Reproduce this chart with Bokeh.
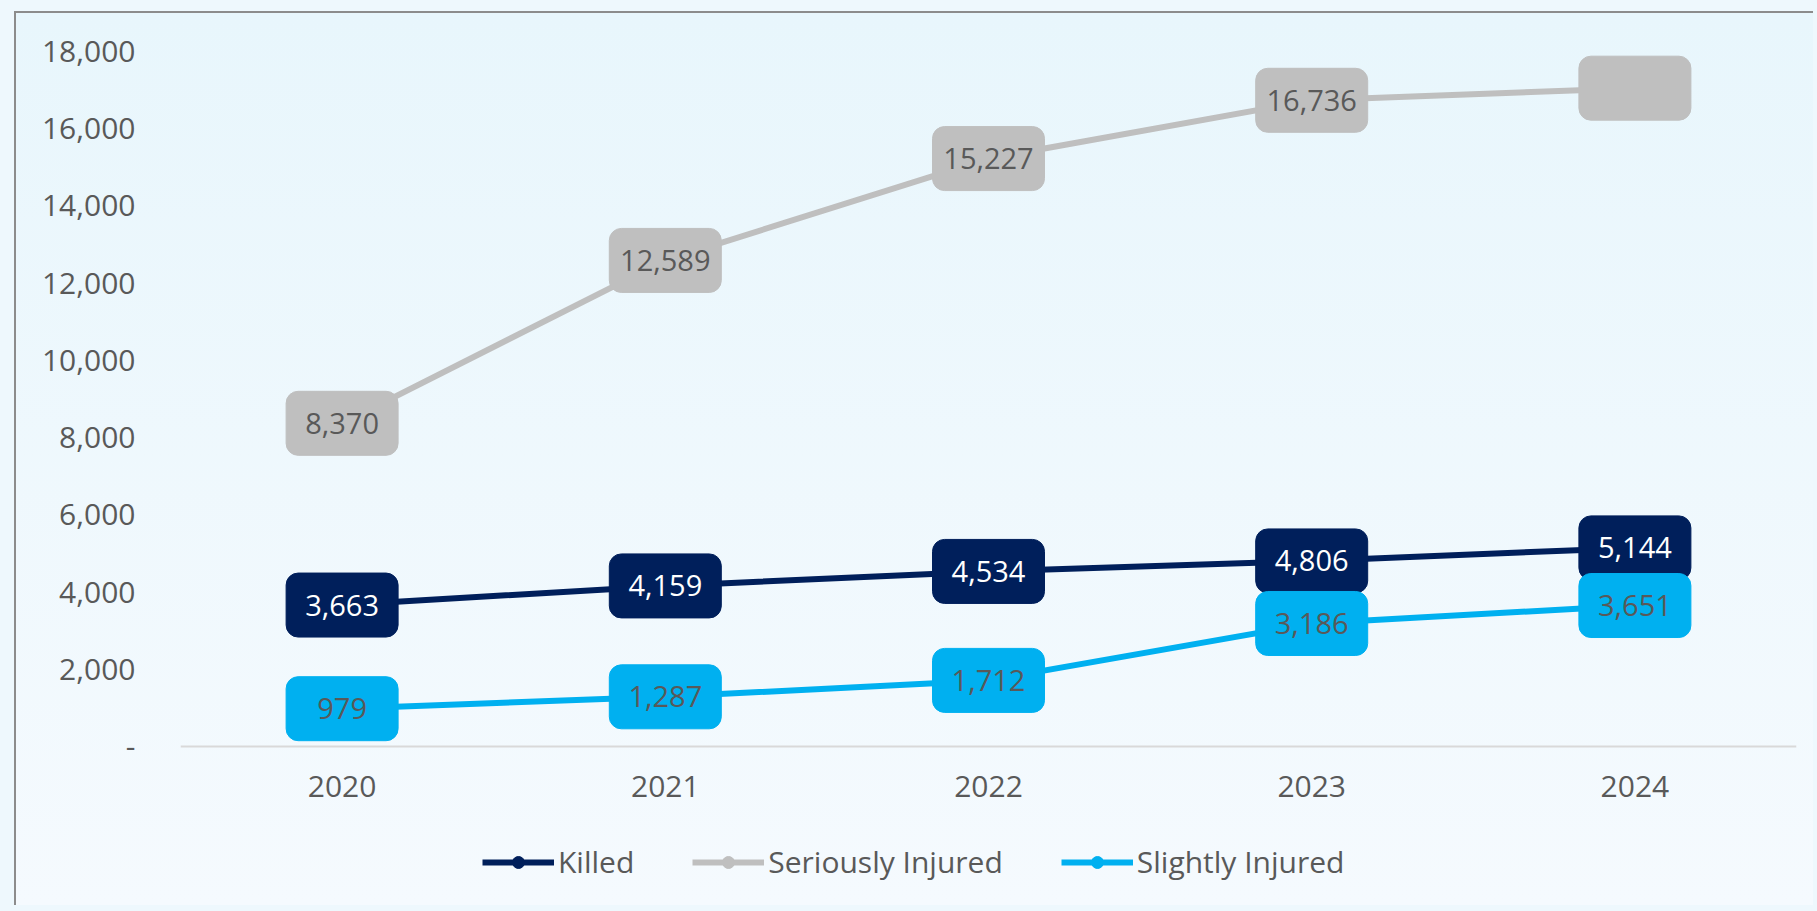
from bokeh.plotting import figure
from bokeh.models import ColumnDataSource, FactorRange, FixedTicker, Legend, LegendItem
from bokeh.core.properties import value
from bokeh.embed import file_html
from bokeh.resources import INLINE

# ---- data ----
years = ["2020", "2021", "2022", "2023", "2024"]
killed = [3663, 4159, 4534, 4806, 5144]
seriously_injured = [8370, 12589, 15227, 16736, 17050]
slightly_injured = [979, 1287, 1712, 3186, 3651]
killed_labels = ["3,663", "4,159", "4,534", "4,806", "5,144"]
seriously_labels = ["8,370", "12,589", "15,227", "16,736", ""]
slightly_labels = ["979", "1,287", "1,712", "3,186", "3,651"]
y_ticks = [0, 2000, 4000, 6000, 8000, 10000, 12000, 14000, 16000, 18000]
y_tick_labels = ["-", "2,000", "4,000", "6,000", "8,000", "10,000", "12,000",
                 "14,000", "16,000", "18,000"]

FONT = "Open Sans"
TXT = "#595959"

# frame runs below the zero line so the legend can sit inside it
p = figure(width=1799, height=894, x_range=FactorRange(*years, range_padding=0),
           y_range=(-4170, 18000), output_backend="svg", toolbar_location=None,
           min_border_left=164, min_border_right=19, min_border_top=38,
           min_border_bottom=0)
p.background_fill_alpha = 0
p.border_fill_alpha = 0
p.outline_line_color = None
p.grid.visible = False
p.styles = {
    "margin-left": "14px",
    "margin-top": "11px",
    "border-left": "2px solid #8C8C8C",
    "border-top": "2px solid #8C8C8C",
    "background": "linear-gradient(#E8F6FC, #F5FAFE)",
    "box-shadow": "0 0 0 40px #EEF8FD",
}

# axes
p.yaxis.ticker = FixedTicker(ticks=y_ticks)
p.yaxis.major_label_overrides = {t: l for t, l in zip(y_ticks, y_tick_labels)}
p.yaxis.axis_line_color = None
p.yaxis.major_tick_line_color = None
p.yaxis.minor_tick_line_color = None
p.yaxis.major_label_standoff = 39
p.yaxis.major_label_text_font = FONT
p.yaxis.major_label_text_font_size = "30px"
p.yaxis.major_label_text_color = TXT

p.xaxis.fixed_location = 0
p.xaxis.axis_line_color = "#D9D9D9"
p.xaxis.axis_line_width = 2
p.xaxis.major_tick_line_color = None
p.xaxis.minor_tick_line_color = None
p.xaxis.major_label_standoff = 24
p.xaxis.major_label_text_font = FONT
p.xaxis.major_label_text_font_size = "30px"
p.xaxis.major_label_text_color = TXT

series = [
    ("Killed", killed, killed_labels, "#001F5B", "white"),
    ("Seriously Injured", seriously_injured, seriously_labels, "#BFBFBF", TXT),
    ("Slightly Injured", slightly_injured, slightly_labels, "#00B0F0", TXT),
]

items = []
for name, vals, labs, color, tcolor in series:
    src = ColumnDataSource(dict(x=years, y=vals, lab=labs))
    ln = p.line("x", "y", source=src, line_color=color, line_width=6)
    sc = p.scatter("x", "y", source=src, size=16, fill_color=color, line_color=color)
    p.rect("x", "y", width=112, height=64, width_units="screen", height_units="screen",
           source=src, fill_color=color, line_color=color, border_radius=12)
    p.text("x", "y", text="lab", source=src, text_align="center", text_baseline="middle",
           text_color=tcolor, text_font=value(FONT), text_font_size="29px")
    items.append(LegendItem(label=name, renderers=[ln, sc]))

legend = Legend(items=items, orientation="horizontal", location=(302, 25),
                glyph_width=72, glyph_height=30, label_standoff=4, spacing=58,
                padding=0, margin=0, background_fill_alpha=0, border_line_color=None,
                label_text_font=FONT, label_text_font_size="30px",
                label_text_color=TXT)
p.add_layout(legend, "center")

open("out.html", "w").write(file_html(p, INLINE))
